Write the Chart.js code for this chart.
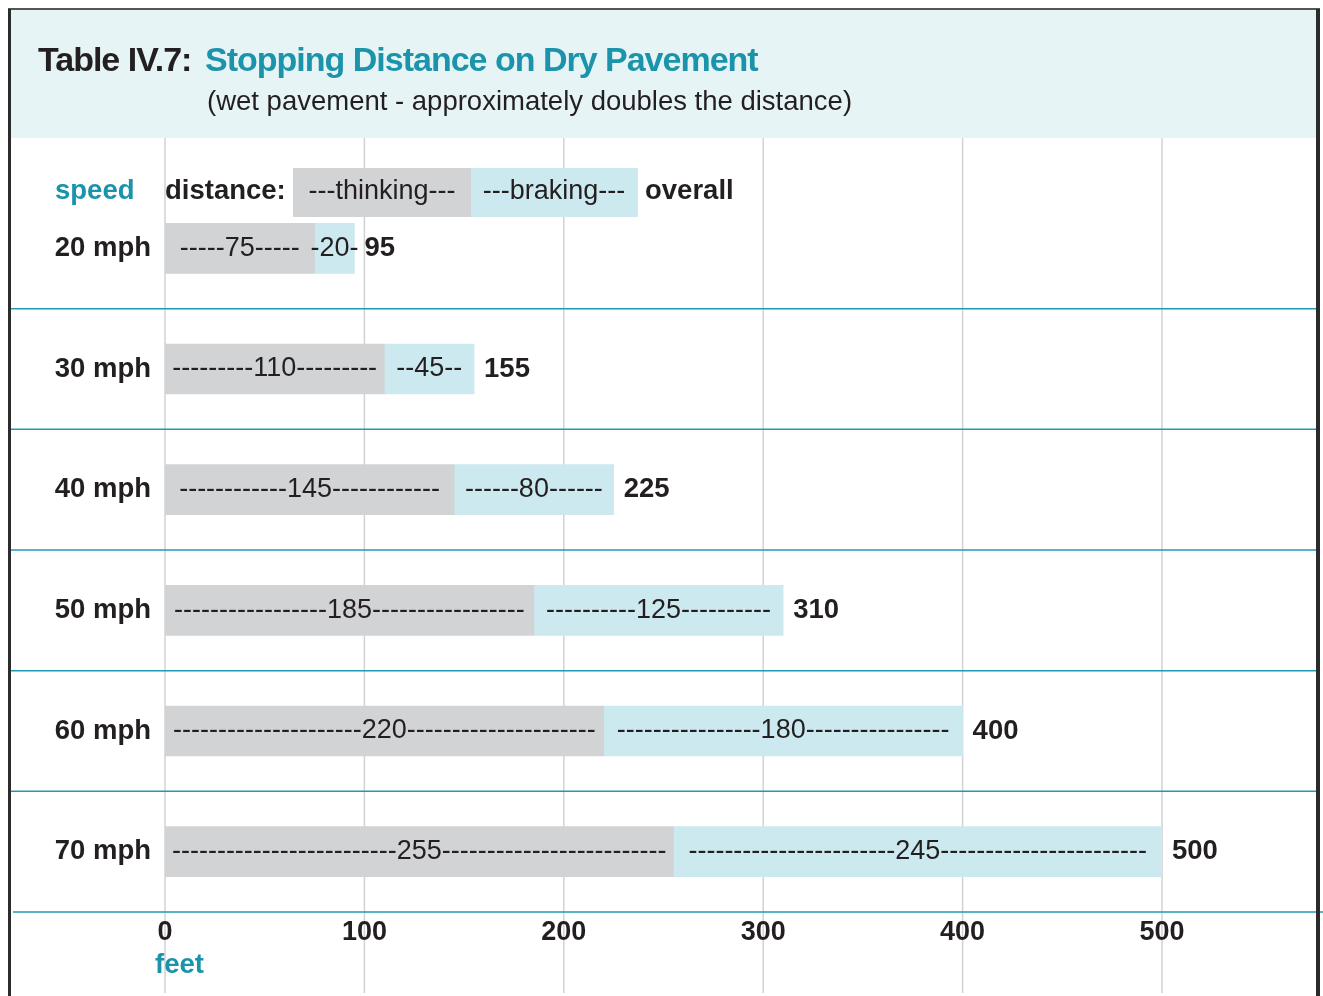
<!DOCTYPE html>
<html>
<head>
<meta charset="utf-8">
<script src="https://cdn.jsdelivr.net/npm/chart.js@4.4.1/dist/chart.umd.min.js"></script>
<style>
  html, body { margin: 0; padding: 0; background: #fff; }
  canvas { display: block; }
</style>
</head>
<body>
<canvas id="myChart" width="1323" height="996"></canvas>
<script>
const speeds = ['20 mph', '30 mph', '40 mph', '50 mph', '60 mph', '70 mph'];
const thinking = [75, 110, 145, 185, 220, 255];
const braking = [20, 45, 80, 125, 180, 245];
const overall = [95, 155, 225, 310, 400, 500];
const feetTicks = [0, 100, 200, 300, 400, 500];

const FONT = '"Liberation Sans", Arial, sans-serif';
const DARK = '#231f20';
const TEAL = '#1b93ab';
const LINE_TEAL = '#1f9ab2';
const GREY_BAR = '#d1d3d4';
const BLUE_BAR = '#cce9ef';

// title box, grid, row separators, labels and frame
const tablePlugin = {
  id: 'tablePlugin',
  beforeDraw(chart) {
    const { ctx } = chart;
    const x = chart.scales.x;
    const y = chart.scales.y;
    ctx.save();
    ctx.fillStyle = '#e6f4f6';
    ctx.fillRect(10, 10, 1308, 128);

    ctx.textBaseline = 'alphabetic';
    ctx.textAlign = 'left';
    ctx.font = 'bold 34px ' + FONT;
    ctx.letterSpacing = '-1px';
    ctx.fillStyle = DARK;
    ctx.fillText('Table IV.7:', 38, 71);
    ctx.fillStyle = TEAL;
    ctx.fillText('Stopping Distance on Dry Pavement', 205, 71);
    ctx.letterSpacing = '0px';
    ctx.font = '27.5px ' + FONT;
    ctx.fillStyle = DARK;
    ctx.fillText('(wet pavement - approximately doubles the distance)', 207, 110);

    // vertical grid
    ctx.strokeStyle = '#d2d2d2';
    ctx.lineWidth = 1.5;
    feetTicks.forEach(v => {
      const px = x.getPixelForValue(v);
      ctx.beginPath();
      ctx.moveTo(px, 138);
      ctx.lineTo(px, 993);
      ctx.stroke();
    });

    // row separators
    ctx.strokeStyle = LINE_TEAL;
    ctx.lineWidth = 1.5;
    for (let i = 0; i < speeds.length; i++) {
      let py, x0 = 10, x1 = 1318;
      if (i < speeds.length - 1) {
        py = (y.getPixelForTick(i) + y.getPixelForTick(i + 1)) / 2;
      } else {
        py = chart.chartArea.bottom;
        x0 = 13; x1 = 1323;
      }
      ctx.beginPath();
      ctx.moveTo(x0, py);
      ctx.lineTo(x1, py);
      ctx.stroke();
    }
    ctx.restore();
  },
  afterDatasetsDraw(chart) {
    const { ctx } = chart;
    ctx.save();
    ctx.fillStyle = DARK;
    ctx.textBaseline = 'middle';
    ctx.font = '27px ' + FONT;
    const dashW = ctx.measureText('-').width;
    chart.data.datasets.forEach((ds, di) => {
      chart.getDatasetMeta(di).data.forEach((bar, i) => {
        const left = Math.min(bar.base, bar.x);
        const right = Math.max(bar.base, bar.x);
        const num = String(ds.data[i]);
        const nw = ctx.measureText(num).width;
        const side = Math.max(1, Math.floor(((right - left - nw) / 2 - 6) / dashW));
        const dashes = '-'.repeat(side);
        ctx.textAlign = 'center';
        ctx.fillText(dashes + num + dashes, (left + right) / 2, bar.y);
      });
    });

    ctx.font = 'bold 27.5px ' + FONT;
    ctx.textAlign = 'left';
    chart.getDatasetMeta(1).data.forEach((bar, i) => {
      ctx.fillText(String(overall[i]), bar.x + 10, bar.y);
    });
    ctx.restore();
  },
  afterDraw(chart) {
    const { ctx } = chart;
    ctx.save();
    // header row
    ctx.fillStyle = GREY_BAR;
    ctx.fillRect(293, 168, 178, 49);
    ctx.fillStyle = BLUE_BAR;
    ctx.fillRect(471, 168, 167, 49);
    ctx.textBaseline = 'alphabetic';
    ctx.font = 'bold 27.5px ' + FONT;
    ctx.textAlign = 'left';
    ctx.fillStyle = TEAL;
    ctx.fillText('speed', 55, 199);
    ctx.fillStyle = DARK;
    ctx.fillText('distance:', 165, 199);
    ctx.fillText('overall', 645, 199);
    ctx.font = '27px ' + FONT;
    ctx.textAlign = 'center';
    ctx.fillText('---thinking---', 382, 199);
    ctx.fillText('---braking---', 554, 199);

    ctx.font = 'bold 27.5px ' + FONT;
    ctx.textAlign = 'left';
    ctx.fillStyle = TEAL;
    ctx.fillText('feet', 155, 973);

    // frame
    ctx.fillStyle = '#555';
    ctx.fillRect(8, 8, 1312, 2);
    ctx.fillStyle = '#2b2b2b';
    ctx.fillRect(8, 9, 3, 987);
    ctx.fillRect(1316, 9, 4, 987);
    ctx.restore();
  }
};

const ctx = document.getElementById('myChart');

const myChart = new Chart(ctx, {
  type: 'bar',
  data: {
    labels: speeds,
    datasets: [{
      label: 'thinking',
      data: thinking,
      backgroundColor: GREY_BAR,
      borderWidth: 0,
      barThickness: 50,
    }, {
      label: 'braking',
      data: braking,
      backgroundColor: BLUE_BAR,
      borderWidth: 0,
      barThickness: 50,
    }]
  },
  options: {
    indexAxis: 'y',
    responsive: false,
    animation: false,
    layout: { padding: { top: 188, right: 161, left: 0, bottom: 0 } },
    plugins: {
      legend: { display: false },
      tooltip: { enabled: false }
    },
    scales: {
      x: {
        stacked: true,
        min: 0,
        max: 500,
        afterBuildTicks: s => { s.ticks = feetTicks.map(v => ({ value: v })); },
        afterFit: s => { s.height = 84; },
        grid: { display: false, drawTicks: false },
        border: { display: false },
        ticks: {
          color: DARK,
          padding: 4,
          font: { family: FONT, size: 27, weight: 'bold' }
        }
      },
      y: {
        stacked: true,
        afterFit: s => { s.width = 165; },
        grid: { display: false, drawTicks: false },
        border: { display: false },
        ticks: {
          color: DARK,
          padding: 14,
          font: { family: FONT, size: 27.5, weight: 'bold' }
        }
      }
    }
  },
  plugins: [tablePlugin]
});
</script>
</body>
</html>
